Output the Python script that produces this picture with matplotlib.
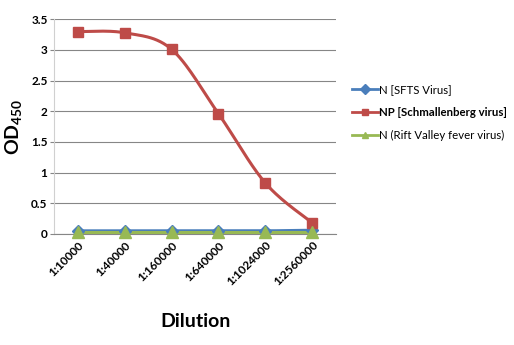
import numpy as np
import matplotlib.pyplot as plt

dilutions = ['1:10000', '1:40000', '1:160000', '1:640000', '1:1024000', '1:2560000']
od_sfts = [0.05, 0.05, 0.05, 0.05, 0.05, 0.06]
od_schmallenberg = [3.30, 3.28, 3.01, 1.96, 0.83, 0.18]
od_rvf = [0.03, 0.03, 0.03, 0.03, 0.03, 0.03]

labels = ['N [SFTS Virus]', 'NP [Schmallenberg virus]', 'N (Rift Valley fever virus)']
colors = ['#4a7ebb', '#be4b48', '#98b954']
markers = ['D', 's', '^']
marker_sizes = [6, 7, 9]


def smooth(x, y, n=30):
    # bezier segments with catmull-rom style control points
    x = np.asarray(x, float)
    y = np.asarray(y, float)
    px = np.concatenate([[x[0]], x, [x[-1]]])
    py = np.concatenate([[y[0]], y, [y[-1]]])
    xs, ys = [], []
    t = np.linspace(0, 1, n)
    for i in range(len(x) - 1):
        p0 = np.array([px[i + 1], py[i + 1]])
        p3 = np.array([px[i + 2], py[i + 2]])
        p1 = p0 + (p3 - np.array([px[i], py[i]])) / 6
        p2 = p3 - (np.array([px[i + 3], py[i + 3]]) - p0) / 6
        b = ((1 - t) ** 3)[:, None] * p0 + (3 * (1 - t) ** 2 * t)[:, None] * p1 \
            + (3 * (1 - t) * t ** 2)[:, None] * p2 + (t ** 3)[:, None] * p3
        xs.append(b[:, 0])
        ys.append(b[:, 1])
    return np.concatenate(xs), np.concatenate(ys)


plt.rcParams['font.family'] = ['Lato', 'DejaVu Sans']
plt.rcParams['mathtext.fontset'] = 'custom'
plt.rcParams['mathtext.bf'] = 'Lato:bold'
plt.rcParams['mathtext.rm'] = 'Lato'

fig = plt.figure(figsize=(5.14, 3.45), dpi=100)
ax = fig.add_axes([0.106, 0.322, 0.547, 0.622])

x = np.arange(len(dilutions))
series = [od_sfts, od_schmallenberg, od_rvf]
handles = []
for vals, col, mk, ms in zip(series, colors, markers, marker_sizes):
    sx, sy = smooth(x, vals)
    ax.plot(sx, sy, color=col, lw=2.2, zorder=3, clip_on=False)
    ax.plot(x, vals, ls='none', marker=mk, color=col, ms=ms, zorder=4, clip_on=False)
    h, = ax.plot([], [], color=col, lw=2, marker=mk, ms=5)
    handles.append(h)

ax.set_xlim(-0.5, len(dilutions) - 0.5)
ax.set_ylim(0, 3.5)
ax.set_yticks(np.arange(0, 3.51, 0.5))
ax.set_yticklabels(['0', '0.5', '1', '1.5', '2', '2.5', '3', '3.5'], fontweight='bold', fontsize=8.5)
ax.set_xticks(x)
ax.set_xticklabels(dilutions, rotation=45, ha='right', rotation_mode='anchor',
                   fontweight='bold', fontsize=8.5)
ax.tick_params(axis='x', length=0, pad=4)
ax.tick_params(axis='y', length=3, color='#868686', pad=2)
ax.grid(axis='y', color='#868686', lw=0.8)
ax.set_axisbelow(True)
for s in ['top', 'right']:
    ax.spines[s].set_visible(False)
ax.spines['left'].set_color('#d0d0d0')
ax.spines['bottom'].set_color('#868686')

ax.set_ylabel(r'$\mathbf{OD_{450}}$', fontsize=14)
ax.yaxis.set_label_coords(-0.108, 0.5)
ax.set_xlabel('Dilution', fontsize=14, fontweight='bold', labelpad=18)

leg = fig.legend(handles, labels, loc='upper left', bbox_to_anchor=(0.665, 0.785),
                 frameon=False, fontsize=8.2, handlelength=2.3, handletextpad=0.1,
                 labelspacing=1.05)
leg.get_texts()[1].set_fontweight('bold')

fig.savefig('out.png', dpi=100)
